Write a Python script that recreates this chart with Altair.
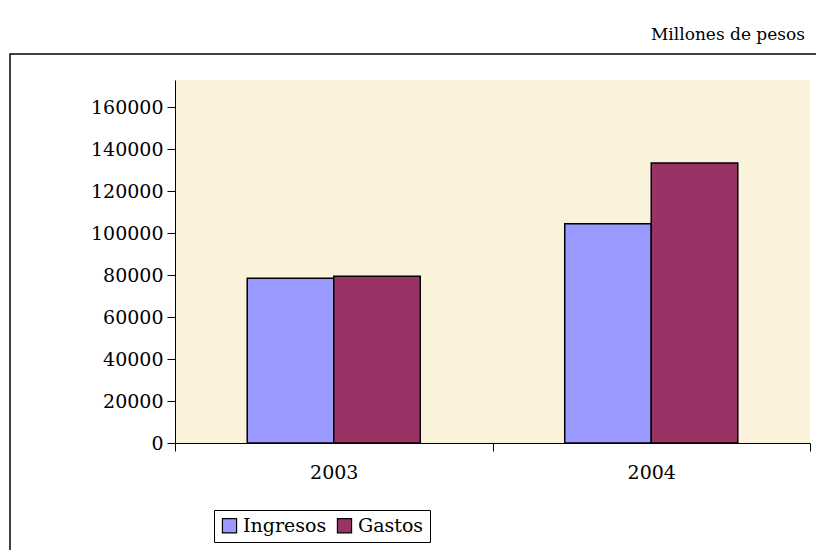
import altair as alt
import pandas as pd

years = ["2003", "2003", "2004", "2004"]
series = ["Ingresos", "Gastos", "Ingresos", "Gastos"]
values = [78500, 79500, 104500, 133500]
tick_values = [0, 20000, 40000, 60000, 80000, 100000, 120000, 140000, 160000]

df = pd.DataFrame({"year": years, "serie": series, "value": values})
FONT = "DejaVu Serif"

bars = alt.Chart(df).mark_bar(stroke="black", strokeWidth=1.5).encode(
    alt.X("year:N").title(None)
        .scale(paddingInner=0, paddingOuter=0)
        .axis(labelAngle=0, tickBand="extent", domainColor="black", tickColor="black",
              tickSize=8, labelFontSize=19, labelColor="black", labelPadding=12, labelFont=FONT),
    alt.XOffset("serie:N").sort(["Ingresos", "Gastos"])
        .scale(paddingInner=0, paddingOuter=0.835),
    alt.Y("value:Q").title(None)
        .scale(domain=[0, 173000], nice=False)
        .axis(values=tick_values, format="d", grid=False, domainColor="black", tickColor="black",
              tickSize=8, labelFontSize=19, labelColor="black", labelFont=FONT, labelPadding=4),
    alt.Color("serie:N").sort(["Ingresos", "Gastos"])
        .scale(domain=["Ingresos", "Gastos"], range=["#9999ff", "#993366"])
        .legend(title=None, orient="none", direction="horizontal", legendX=39, legendY=430,
                strokeColor="black", padding=6, labelFont=FONT, labelFontSize=19,
                labelColor="black", symbolType="square", symbolSize=200,
                symbolStrokeColor="black", symbolStrokeWidth=1.2, columnPadding=8),
)

frame = alt.Chart(df).mark_rect(fill=None, stroke="black", strokeWidth=1.5).encode(
    x=alt.value(-165), x2=alt.value(645), y=alt.value(-26), y2=alt.value(490)
).transform_filter("datum.year == '2003' && datum.serie == 'Ingresos'")

unit = alt.Chart(df).mark_text(font=FONT, fontSize=17, align="right", color="black").encode(
    text=alt.value("Millones de pesos"), x=alt.value(630), y=alt.value(-45)
).transform_filter("datum.year == '2003' && datum.serie == 'Ingresos'")

chart = (frame + bars + unit).properties(
    width=635, height=363, autosize=alt.AutoSizeParams(type="none"),
    padding={"left": 167, "top": 72, "right": 6, "bottom": 107},
).configure_view(fill="#fbf2dc", stroke=None)

chart.save("out.html", embed_options={"renderer": "svg", "actions": False})
